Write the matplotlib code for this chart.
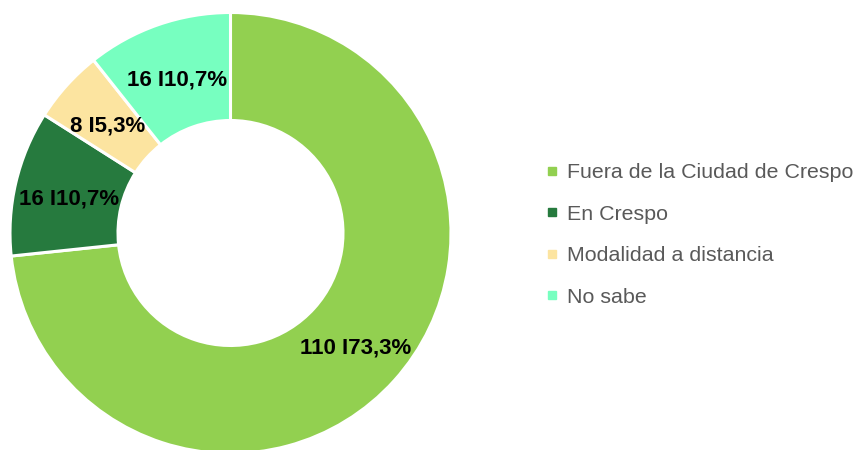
import matplotlib
matplotlib.use("Agg")
import matplotlib.pyplot as plt
from matplotlib.lines import Line2D

categories = ["Fuera de la Ciudad de Crespo", "En Crespo", "Modalidad a distancia", "No sabe"]
counts = [110, 16, 8, 16]
percents = ["73,3%", "10,7%", "5,3%", "10,7%"]
colors = ["#92D050", "#267A3E", "#FCE4A0", "#77FFC0"]

W, H = 857, 450
fig = plt.figure(figsize=(W / 100, H / 100), dpi=100)
ax = fig.add_axes([0, 0, 1, 1])
ax.set_xlim(0, W)
ax.set_ylim(0, H)
ax.set_aspect("equal")
ax.axis("off")

cx, cy = 230.5, H - 233
R = 220.5
inner = 112.5
width = R - inner

labels = [f"{c} I{p}" for c, p in zip(counts, percents)]
wedges, texts = ax.pie(
    counts, colors=colors, startangle=90, counterclock=False,
    center=(cx, cy), radius=R,
    labels=labels, labeldistance=(R - width / 2) / R,
    wedgeprops=dict(width=width, edgecolor="white", linewidth=2.2),
    textprops=dict(family="Liberation Sans", fontweight="bold", fontsize=16,
                   color="black", ha="center", va="center"),
)
for t in texts:
    x, y = t.get_position()
    t.set_position((x + 1, y - 4))
    t.set_ha("center")
    t.set_va("center")
ax.set_xlim(0, W)
ax.set_ylim(0, H)

handles = [Line2D([0], [0], marker="s", linestyle="none", markersize=5.5,
                  markerfacecolor=c, markeredgecolor=c) for c in colors]
leg = ax.legend(handles, categories, loc="center left",
                bbox_to_anchor=(547 / W, 1 - 235 / H), frameon=False,
                prop=dict(family="Liberation Sans", size=15.4),
                labelcolor="#595959", handlelength=0.5, handletextpad=0.45,
                labelspacing=1.05, borderaxespad=0, borderpad=0)

fig.savefig("out.png", dpi=100)
